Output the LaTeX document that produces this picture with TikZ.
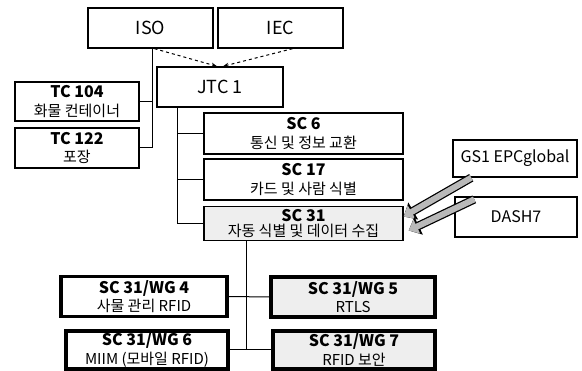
\documentclass[tikz,border=0pt]{standalone}
\usepackage{fontspec}
\setmainfont{Noto Sans CJK KR}
\usetikzlibrary{arrows.meta,calc}
\newcommand{\hd}[1]{{\fontsize{16}{19}\selectfont\bfseries #1}}
\tikzset{
  orgbox/.style={draw=black,line width=1.4pt,align=center,inner sep=0pt,
    font=\fontsize{15}{18.5}\selectfont},                    % committee box
  topbox/.style={orgbox,font=\fontsize{18}{20}\selectfont},   % ISO, IEC, JTC 1
  wgbox/.style={orgbox,line width=3.2pt},                    % working group
  shade/.style={fill=gray!13},
  link/.style={black,line width=1pt},
  dasharr/.style={-{Stealth[length=2mm]},dashed,line width=1pt},
  bigarr/.style={-{Triangle[length=9pt,width=15pt]},gray!55,line width=6pt,
    preaction={draw=black,line width=8.5pt,-{Triangle[length=11pt,width=19pt]}}},
}

\begin{document}
\begin{tikzpicture}[x=1pt,y=-1pt]
  \useasboundingbox (0,0) rectangle (582,371);
  % top level
  \node[topbox,minimum width=125pt,minimum height=40pt] (iso) at (150.5,28) {ISO};
  \node[topbox,minimum width=125pt,minimum height=40pt] (iec) at (280.5,28) {IEC};
  \node[topbox,minimum width=126pt,minimum height=40pt] (jtc) at (220,87) {JTC 1};
  % technical committees
  \node[orgbox,minimum width=124pt,minimum height=39pt] (tc104) at (77,101.5) {\hd{TC 104}\\화물 컨테이너};
  \node[orgbox,minimum width=124pt,minimum height=40pt] (tc122) at (77,148) {\hd{TC 122}\\포장};
  % subcommittees
  \node[orgbox,minimum width=199pt,minimum height=41pt] (sc6) at (303.5,133.5) {\hd{SC 6}\\통신 및 정보 교환};
  \node[orgbox,minimum width=199pt,minimum height=41pt] (sc17) at (303.5,179.5) {\hd{SC 17}\\카드 및 사람 식별};
  \node[orgbox,shade,minimum width=199pt,minimum height=34pt,font=\fontsize{15}{15.5}\selectfont] (sc31) at (303.5,223.5) {\hd{SC 31}\\자동 식별 및 데이터 수집};
  % outside bodies
  \node[orgbox,minimum width=124pt,minimum height=37pt,font=\fontsize{16}{18}\selectfont] (gs1) at (515,158.5) {GS1 EPCglobal};
  \node[orgbox,minimum width=122pt,minimum height=40pt,font=\fontsize{16}{18}\selectfont] (dash) at (516,217) {DASH7};
  % working groups
  \node[wgbox,minimum width=166pt,minimum height=40pt] (wg4) at (144,296.5) {\hd{SC 31/WG 4}\\사물 관리 RFID};
  \node[wgbox,shade,minimum width=164pt,minimum height=40pt] (wg5) at (353,297) {\hd{SC 31/WG 5}\\RTLS};
  \node[wgbox,minimum width=162pt,minimum height=38pt] (wg6) at (147,350) {\hd{SC 31/WG 6}\\MIIM (모바일 RFID)};
  \node[wgbox,shade,minimum width=162pt,minimum height=38pt] (wg7) at (354,350) {\hd{SC 31/WG 7}\\RFID 보안};

  % ISO to TCs
  \draw[link] ([xshift=1.5pt]iso.south) |- (tc122.east);
  \draw[link] ([xshift=1.5pt]iso.south |- tc104.east) -- (tc104.east);
  % ISO, IEC to JTC 1
  \draw[dasharr] ([xshift=4pt]iso.south) -- ([xshift=-3pt]jtc.north);
  \draw[dasharr] ([xshift=12pt]iec.south) -- ([xshift=3pt]jtc.north);
  % JTC 1 to SCs
  \draw[link] ([xshift=21pt]jtc.south west) |- (sc31.west);
  \draw[link] ([xshift=21pt]jtc.south west |- sc6.west) -- (sc6.west);
  \draw[link] ([xshift=21pt]jtc.south west |- sc17.west) -- (sc17.west);
  % SC 31 to WGs
  \coordinate (wgbus) at ([xshift=43pt]sc31.south west);
  \draw[link] (wgbus) -- (wgbus |- wg7.west);
  \draw[link] (wg4.east) -- (wg5.west);
  \draw[link] (wg6.east) -- (wg7.west);
  % liaisons
  \draw[bigarr] ([xshift=19pt]gs1.south west) -- ([yshift=7pt]sc31.east);
  \draw[bigarr] ([xshift=20pt,yshift=-3pt]dash.north west) -- ([xshift=5pt,yshift=-7pt]sc31.east);
\end{tikzpicture}
\end{document}
